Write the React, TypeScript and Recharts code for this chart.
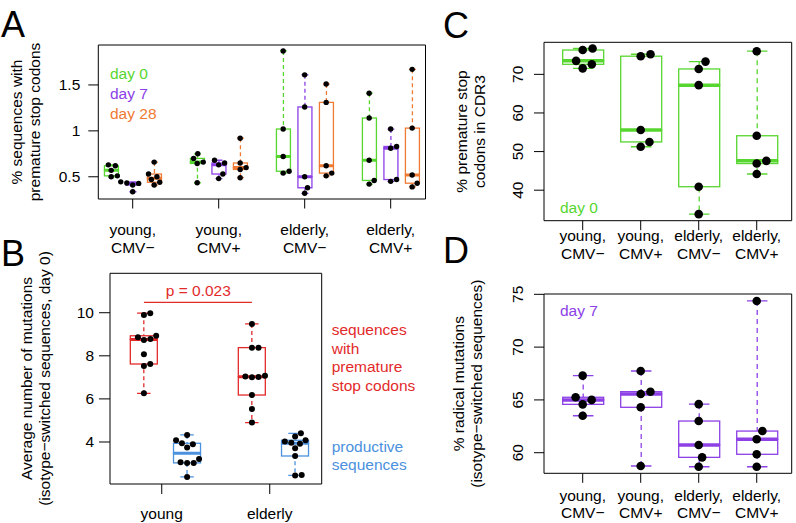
import React from 'react';
import { ComposedChart, Bar, Scatter, XAxis, YAxis, ReferenceLine } from 'recharts';

const W = 796;
const H = 523;
const FONT = '"Liberation Sans", Arial, Helvetica, sans-serif';
const FS = 15.5;

const GREEN = '#57d62f';
const PURPLE = '#8c40e6';
const ORANGE = '#ef7a33';
const RED = '#e22a2a';
const BLUE = '#4b91dd';

// ---------------- data ----------------
const CAT4 = ['young,|CMV−', 'young,|CMV+', 'elderly,|CMV−', 'elderly,|CMV+'];
const CAT2 = ['young', 'elderly'];
const DAYS_A = ['day 0', 'day 7', 'day 28'];

const TICKS_A = [0.5, 1, 1.5];
const TICKS_B = [4, 6, 8, 10];
const TICKS_C = [40, 50, 60, 70];
const TICKS_D = [60, 65, 70, 75];

// Panel A: % sequences with premature stop codons (per category)
const A_day0 = [
  [0.5, 0.51, 0.57, 0.62, 0.63],
  [0.435, 0.645, 0.66, 0.7, 0.75],
  [0.54, 0.56, 0.72, 1.02, 1.87],
  [0.42, 0.46, 0.68, 1.14, 1.41],
];
const A_day7 = [
  [0.337, 0.41, 0.428, 0.432, 0.445],
  [0.48, 0.53, 0.63, 0.65, 0.68],
  [0.32, 0.38, 0.5, 1.26, 1.61],
  [0.45, 0.47, 0.81, 0.83, 1.02],
];
const A_day28 = [
  [0.41, 0.44, 0.47, 0.5, 0.53, 0.66],
  [0.49, 0.58, 0.6, 0.65, 0.92],
  [0.51, 0.54, 0.62, 1.31, 1.51],
  [0.39, 0.43, 0.52, 1.03, 1.67],
];

// Panel B: average number of mutations
const B_stop = [
  [6.26, 7.53, 7.62, 8.07, 8.73, 8.78, 8.86, 8.93, 9.89, 9.98],
  [4.9, 5.53, 6.18, 7.0, 7.02, 7.04, 7.08, 8.38, 8.38, 9.48],
];
const B_prod = [
  [2.38, 3.02, 3.03, 3.06, 3.21, 3.75, 3.9, 3.94, 4.08, 4.33],
  [2.45, 2.47, 3.35, 3.71, 3.92, 3.96, 4.02, 4.08, 4.25, 4.4],
];
const B_P_LABEL = 'p = 0.023';
const B_P_Y = 10.48;

// Panel C: % premature stop codons in CDR3 (day 0)
const C_day0 = [
  [71.55, 72.6, 73.5, 76.3, 76.7],
  [51.25, 52.5, 55.6, 74.7, 75.2],
  [33.8, 40.9, 67.2, 71.4, 73.3],
  [44.2, 46.9, 47.6, 54.1, 76.0],
];

// Panel D: % radical mutations (day 7)
const D_day7 = [
  [63.5, 64.58, 65.0, 65.25, 67.3],
  [58.74, 64.3, 65.56, 65.78, 67.74],
  [58.67, 59.56, 60.73, 63.0, 64.6],
  [58.67, 59.85, 61.27, 62.05, 74.37],
];

// ---------------- helpers ----------------
type Row = { x: number; min: number; q1: number; med: number; q3: number; max: number; color: string };
type Pt = { x: number; y: number };
type Geo = { L: number; R: number; T: number; B: number; xd: [number, number]; yd: [number, number] };

function fivenum(v: number[]) {
  const x = [...v].sort((a, b) => a - b);
  const n = x.length;
  const n4 = Math.floor((n + 3) / 2) / 2;
  const d = [1, n4, (n + 1) / 2, n + 1 - n4, n];
  return d.map((i) => 0.5 * (x[Math.floor(i) - 1] + x[Math.ceil(i) - 1]));
}

function swarm(vals: number[], pxPerY: number, dia: number) {
  const idx = vals.map((_, i) => i).sort((a, b) => vals[a] - vals[b]);
  const placed: { x: number; y: number }[] = [];
  const out = new Array(vals.length).fill(0);
  for (const i of idx) {
    const y = vals[i] * pxPerY;
    const cands = [0];
    for (const p of placed) {
      const dy = Math.abs(p.y - y);
      if (dy < dia) {
        const dx = Math.sqrt(dia * dia - dy * dy);
        cands.push(p.x + dx, p.x - dx);
      }
    }
    cands.sort((a, b) => Math.abs(a) - Math.abs(b));
    let chosen = 0;
    for (const c of cands) {
      if (placed.every((p) => (p.x - c) ** 2 + (p.y - y) ** 2 >= dia * dia - 1e-6)) {
        chosen = c;
        break;
      }
    }
    placed.push({ x: chosen, y });
    out[i] = chosen;
  }
  return out;
}

function pxPer(geo: Geo) {
  return {
    px: (geo.R - geo.L) / (geo.xd[1] - geo.xd[0]),
    py: (geo.B - geo.T) / (geo.yd[1] - geo.yd[0]),
  };
}

function addGroup(rows: Row[], pts: Pt[], geo: Geo, x: number, vals: number[], color: string, dia: number) {
  const s = fivenum(vals);
  rows.push({ x, min: s[0], q1: s[1], med: s[2], q3: s[3], max: s[4], color });
  const { px, py } = pxPer(geo);
  const off = swarm(vals, py, dia);
  vals.forEach((v, k) => pts.push({ x: x + off[k] / px, y: v }));
}

// ---------------- geometry ----------------
const GEO_A: Geo = { L: 98.3, R: 425.5, T: 45, B: 199, xd: [0.6, 4.405], yd: [0.258, 1.935] };
const GEO_B: Geo = { L: 110, R: 321.7, T: 273.3, B: 484, xd: [0.521, 2.481], yd: [2.05, 11.83] };
const GEO_C: Geo = { L: 544, R: 791.7, T: 42.3, B: 220.7, xd: [0.333, 4.603], yd: [32.1, 78.3] };
const GEO_D: Geo = { L: 544, R: 791.7, T: 294, B: 473.3, xd: [0.333, 4.603], yd: [58.05, 75.03] };

const rowsA: Row[] = [];
const ptsA: Pt[] = [];
const daysA = [A_day0, A_day7, A_day28];
const colorsA = [GREEN, PURPLE, ORANGE];
CAT4.forEach((_, i) => {
  daysA.forEach((arr, j) => addGroup(rowsA, ptsA, GEO_A, i + 1 + (j - 1) * 0.25, arr[i], colorsA[j], 6.2));
});

const rowsB: Row[] = [];
const ptsB: Pt[] = [];
CAT2.forEach((_, i) => {
  addGroup(rowsB, ptsB, GEO_B, i + 1 - 0.165, B_stop[i], RED, 6.6);
  addGroup(rowsB, ptsB, GEO_B, i + 1 + 0.235, B_prod[i], BLUE, 6.6);
});

const rowsC: Row[] = [];
const ptsC: Pt[] = [];
CAT4.forEach((_, i) => addGroup(rowsC, ptsC, GEO_C, i + 1, C_day0[i], GREEN, 10));

const rowsD: Row[] = [];
const ptsD: Pt[] = [];
CAT4.forEach((_, i) => addGroup(rowsD, ptsD, GEO_D, i + 1, D_day7[i], PURPLE, 10));

// ---------------- shapes ----------------
const whiskerShape = (dash: string, lw: number) => (p: any) => {
  const { x, y, width, height, payload } = p;
  if (x == null || y == null) return <g />;
  const cx = x + width / 2;
  const hc = width / 4;
  const c = payload.color;
  return (
    <g>
      <line x1={cx} x2={cx} y1={y} y2={y + height} stroke={c} strokeWidth={lw} strokeDasharray={dash} />
      <line x1={cx - hc} x2={cx + hc} y1={y} y2={y} stroke={c} strokeWidth={lw} />
      <line x1={cx - hc} x2={cx + hc} y1={y + height} y2={y + height} stroke={c} strokeWidth={lw} />
    </g>
  );
};

const lowerShape = (lw: number) => (p: any) => {
  const { x, y, width, height, payload } = p;
  if (x == null || y == null) return <g />;
  return <rect x={x} y={y} width={width} height={Math.max(0, height)} fill="#fff" stroke={payload.color} strokeWidth={lw} />;
};

const upperShape = (lw: number, mw: number) => (p: any) => {
  const { x, y, width, height, payload } = p;
  if (x == null || y == null) return <g />;
  return (
    <g>
      <rect x={x} y={y} width={width} height={Math.max(0, height)} fill="#fff" stroke={payload.color} strokeWidth={lw} />
      <line x1={x} x2={x + width} y1={y + height} y2={y + height} stroke={payload.color} strokeWidth={mw} />
    </g>
  );
};

const makeXTick = (labels: string[], d1: number, d2: number) => (props: any) => {
  const { x, y, payload } = props;
  const lab = labels[Math.round(payload.value) - 1] || '';
  const lines = lab.split('|');
  return (
    <g>
      {lines.map((l, k) => (
        <text key={k} x={x} y={y + (k === 0 ? d1 : d2)} textAnchor="middle" fontSize={FS} fontFamily={FONT} fill="#000">
          {l}
        </text>
      ))}
    </g>
  );
};

const makeYTickH = (shift: number) => (props: any) => (
  <text x={props.x - shift} y={props.y} textAnchor="end" dominantBaseline="central" fontSize={FS} fontFamily={FONT} fill="#000">
    {String(props.payload.value)}
  </text>
);

const makeYTickV = (shift: number) => (props: any) => {
  const cx = props.x - shift;
  return (
    <text
      x={cx}
      y={props.y}
      transform={`rotate(-90, ${cx}, ${props.y})`}
      textAnchor="middle"
      dominantBaseline="central"
      fontSize={FS}
      fontFamily={FONT}
      fill="#000"
    >
      {String(props.payload.value)}
    </text>
  );
};

type PanelProps = {
  geo: Geo;
  rows: Row[];
  pts: Pt[];
  xticks: number[];
  yticks: number[];
  xTick: any;
  yTick: any;
  bw: number;
  r: number;
  dash: string;
  lw: number;
  medW: number;
  tickX: number;
  tickY: number;
  children?: React.ReactNode;
};

const AX = 1; // axis thickness reserved (must be > 0 for recharts to draw the axis)

function Panel({ geo, rows, pts, xticks, yticks, xTick, yTick, bw, r, dash, lw, medW, tickX, tickY, children }: PanelProps) {
  const axisStroke = { stroke: '#000', strokeWidth: 1 };
  return (
    <div style={{ position: 'absolute', left: 0, top: 0 }}>
      <ComposedChart
        width={W}
        height={H}
        data={rows}
        margin={{ top: geo.T - AX, left: geo.L - AX, right: W - geo.R - AX, bottom: H - geo.B - AX }}
      >
        <XAxis
          xAxisId="x"
          type="number"
          dataKey="x"
          domain={geo.xd}
          allowDataOverflow
          ticks={xticks}
          interval={0}
          height={AX}
          tickSize={tickX}
          tickMargin={0}
          axisLine={axisStroke}
          tickLine={axisStroke}
          tick={xTick}
        />
        <XAxis
          xAxisId="top"
          orientation="top"
          type="number"
          domain={geo.xd}
          allowDataOverflow
          height={AX}
          tick={false}
          tickLine={false}
          axisLine={axisStroke}
        />
        <XAxis xAxisId="zw" type="number" dataKey="x" domain={geo.xd} allowDataOverflow hide height={0} />
        <XAxis xAxisId="zlo" type="number" dataKey="x" domain={geo.xd} allowDataOverflow hide height={0} />
        <XAxis xAxisId="zhi" type="number" dataKey="x" domain={geo.xd} allowDataOverflow hide height={0} />
        <YAxis
          type="number"
          domain={geo.yd}
          allowDataOverflow
          ticks={yticks}
          interval={0}
          width={AX}
          tickSize={tickY}
          tickMargin={0}
          axisLine={axisStroke}
          tickLine={axisStroke}
          tick={yTick}
        />
        <YAxis
          yAxisId="r"
          orientation="right"
          type="number"
          domain={geo.yd}
          allowDataOverflow
          width={AX}
          tick={false}
          tickLine={false}
          axisLine={axisStroke}
        />
        <Bar xAxisId="zw" dataKey={(d: Row) => [d.min, d.max]} barSize={bw} shape={whiskerShape(dash, lw)} isAnimationActive={false} />
        <Bar xAxisId="zlo" dataKey={(d: Row) => [d.q1, d.med]} barSize={bw} shape={lowerShape(lw)} isAnimationActive={false} />
        <Bar xAxisId="zhi" dataKey={(d: Row) => [d.med, d.q3]} barSize={bw} shape={upperShape(lw, medW)} isAnimationActive={false} />
        <Scatter
          xAxisId="x"
          data={pts}
          dataKey="y"
          isAnimationActive={false}
          shape={(p: any) => <circle cx={p.cx} cy={p.cy} r={r} fill="#000" />}
        />
        {children}
      </ComposedChart>
    </div>
  );
}

function Overlay() {
  const t = (x: number, y: number, s: string, color = '#000', size = FS, anchor: any = 'start') => (
    <text x={x} y={y} fill={color} fontSize={size} fontFamily={FONT} textAnchor={anchor}>
      {s}
    </text>
  );
  const vt = (cx: number, cy: number, s: string) => (
    <text
      x={cx}
      y={cy}
      transform={`rotate(-90, ${cx}, ${cy})`}
      textAnchor="middle"
      dominantBaseline="central"
      fontSize={FS}
      fontFamily={FONT}
      fill="#000"
    >
      {s}
    </text>
  );
  return (
    <svg width={W} height={H} style={{ position: 'absolute', left: 0, top: 0, pointerEvents: 'none' }}>
      {t(1, 37, 'A', '#000', 36)}
      {t(1, 266, 'B', '#000', 36)}
      {t(443, 38, 'C', '#000', 36)}
      {t(443, 263, 'D', '#000', 36)}

      {vt(16, 122, '% sequences with')}
      {vt(34, 122, 'premature stop codons')}
      {t(110, 79, DAYS_A[0], GREEN)}
      {t(110, 99, DAYS_A[1], PURPLE)}
      {t(110, 119, DAYS_A[2], ORANGE)}

      {vt(26.5, 378.5, 'Average number of mutations')}
      {vt(44, 378.5, '(isotype−switched sequences, day 0)')}
      {t(198.3, 296, B_P_LABEL, RED, FS, 'middle')}
      {t(331.7, 335, 'sequences', RED)}
      {t(331.7, 353.5, 'with', RED)}
      {t(331.7, 372, 'premature', RED)}
      {t(331.7, 390.5, 'stop codons', RED)}
      {t(331.7, 451.7, 'productive', BLUE)}
      {t(331.7, 470, 'sequences', BLUE)}

      {vt(461, 131.5, '% premature stop')}
      {vt(479, 131.5, 'codons in CDR3')}
      {t(560, 212.5, 'day 0', GREEN)}

      {vt(459, 383.7, '% radical mutations')}
      {vt(476.5, 383.7, '(isotype−switched sequences)')}
      {t(560, 315.7, 'day 7', PURPLE)}
    </svg>
  );
}

export default function App() {
  return (
    <div style={{ position: 'absolute', left: 0, top: 0, width: W, height: H, background: '#fff', fontFamily: FONT }}>
      <Panel
        geo={GEO_A}
        rows={rowsA}
        pts={ptsA}
        xticks={[1, 2, 3, 4]}
        yticks={TICKS_A}
        xTick={makeXTick(CAT4, 26.5, 44.8)}
        yTick={makeYTickH(8)}
        bw={14}
        r={2.7}
        dash="4 3"
        lw={1.3}
        medW={3}
        tickX={9.5}
        tickY={10}
      />
      <Panel
        geo={GEO_B}
        rows={rowsB}
        pts={ptsB}
        xticks={[1, 2]}
        yticks={TICKS_B}
        xTick={makeXTick(CAT2, 25, 43)}
        yTick={makeYTickH(5)}
        bw={27}
        r={3}
        dash="4 3"
        lw={1.3}
        medW={3}
        tickX={10}
        tickY={11}
      >
        <ReferenceLine
          xAxisId="x"
          segment={[
            { x: 1 - 0.165, y: B_P_Y },
            { x: 2 - 0.165, y: B_P_Y },
          ]}
          stroke={RED}
          strokeWidth={1.3}
        />
      </Panel>
      <Panel
        geo={GEO_C}
        rows={rowsC}
        pts={ptsC}
        xticks={[1, 2, 3, 4]}
        yticks={TICKS_C}
        xTick={makeXTick(CAT4, 10.5, 28.3)}
        yTick={makeYTickV(16.5)}
        bw={41}
        r={4.3}
        dash="5 4"
        lw={1.3}
        medW={3.5}
        tickX={9.5}
        tickY={10}
      />
      <Panel
        geo={GEO_D}
        rows={rowsD}
        pts={ptsD}
        xticks={[1, 2, 3, 4]}
        yticks={TICKS_D}
        xTick={makeXTick(CAT4, 17.9, 35.5)}
        yTick={makeYTickV(16.5)}
        bw={41}
        r={4.3}
        dash="5 4"
        lw={1.3}
        medW={3.5}
        tickX={9.5}
        tickY={10}
      />
      <Overlay />
    </div>
  );
}
